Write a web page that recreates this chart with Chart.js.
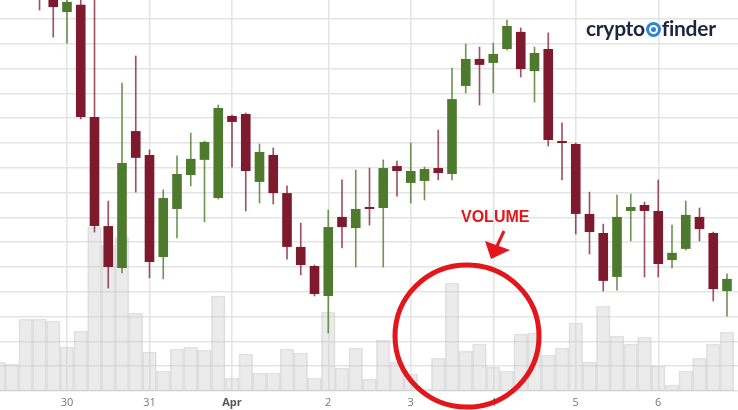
<!DOCTYPE html>
<html>
<head>
<meta charset="utf-8">
<script src="https://cdn.jsdelivr.net/npm/chart.js@4.4.1/dist/chart.umd.min.js"></script>
<style>
html,body{margin:0;padding:0;background:#fff;}
#wrap{position:relative;width:738px;height:410px;overflow:hidden;background:#fff;}
#c{position:absolute;left:0;top:0;}
#logo{position:absolute;left:586px;top:15px;font-family:Lato,'Open Sans',sans-serif;font-weight:700;font-size:21px;color:#1c2640;letter-spacing:-0.3px;display:flex;align-items:center;white-space:nowrap;}
#logo .ic{display:inline-block;position:relative;width:15px;height:15px;border-radius:50%;background:#2b86d5;margin:3px 1px 0 1px;}
#logo .ic:after{content:"";position:absolute;left:3px;top:3px;width:5px;height:5px;border:2px solid #fff;border-radius:50%;}
#vol{position:absolute;left:461px;top:209px;font-family:'Liberation Sans',Arial,sans-serif;font-weight:700;font-size:16px;line-height:16px;color:#e2161b;}
#ann{position:absolute;left:0;top:0;}
</style>
</head>
<body>
<div id="wrap">
<canvas id="c" width="738" height="410"></canvas>
<div id="logo"><span>crypto</span><span class="ic"></span><span>finder</span></div>
<svg id="ann" width="738" height="410">
  <ellipse cx="467" cy="336" rx="72" ry="71" fill="none" stroke="#e2161b" stroke-width="5"/>
  <line x1="504" y1="231" x2="497" y2="246" stroke="#e2161b" stroke-width="3"/>
  <polygon points="485,241 510,250 491,259" fill="#e2161b"/>
</svg>
<div id="vol">VOLUME</div>
</div>
<script>
// 4-hour candle slots (position index), day tick labels
const slots = [-5,-4,-3,-2,-1,0,1,2,3,4,5,6,7,8,9,10,11,12,13,14,15,16,17,18,19,20,21,22,23,24,25,26,27,28,29,30,31,32,33,34,35,36,37,38,39,40,41,42,43,44,45,46,47,48];
const tickSlots = [0,6,12,19,25,31,37,43];
const tickLabels = ['30','31','Apr','2','3','4','5','6'];

const open  = [null,null,null,7898,7801,7728,7757,7305,6865,6696,7248,7152,6740,6934,7071,7132,6978,7309,7317,7043,7152,6998,6781,6704,6583,6902,6857,6942,6938,7107,7039,7047,7099,7075,7430,7539,7523,7579,7648,7490,7579,7208,7196,6914,6837,6660,6926,6950,6926,6728,6773,6902,6837,6603];
const high  = [null,null,null,7938,7837,7797,7785,7797,6966,7442,7551,7172,7011,7148,7240,7208,7353,7313,7321,7196,7180,7027,6877,6708,6930,7051,7091,7099,7132,7127,7200,7103,7252,7502,7599,7587,7603,7696,7664,7587,7644,7281,7200,7002,6873,6990,6994,6962,7051,6869,6966,6938,6841,6672];
const low   = [null,null,null,7736,7627,7603,7297,6841,6615,6676,7002,6656,6652,6817,7027,6882,6974,7103,6926,6958,6954,6732,6668,6583,6434,6777,6700,6869,6700,6986,6958,6970,7051,7051,7402,7353,7402,7575,7466,7365,7188,7051,6833,6752,6603,6607,6805,6660,6660,6696,6769,6805,6563,6502];
const close = [null,null,null,7793,7748,7769,7305,6865,6700,7119,7140,6720,6978,7075,7136,7204,7341,7285,7087,7164,6998,6781,6708,6591,6861,6861,6934,6934,7099,7087,7087,7095,7079,7377,7539,7515,7559,7672,7498,7563,7212,7200,6914,6841,6644,6902,6942,6926,6712,6757,6910,6853,6611,6652];
const volume = [290,270,720,720,700,440,600,1640,1460,1540,780,390,200,420,440,410,950,130,370,180,180,420,380,130,790,230,430,120,510,290,170,20,330,1080,400,470,240,200,570,580,360,430,680,290,850,550,470,540,250,60,200,330,470,590];

const UP = '#4d7a2d', DOWN = '#7e1a2d';
const UPW = 'rgba(77,122,45,0.8)', DOWNW = 'rgba(126,26,45,0.75)';
const isUp = i => close[i] >= open[i];

const bodyData = slots.map((s,i) => ({x: s, y: open[i] == null ? null : [open[i], close[i]]}));
const wickData = slots.map((s,i) => ({x: s, y: low[i] == null ? null : [low[i], high[i]]}));
const volData  = slots.map((s,i) => ({x: s, y: volume[i]}));

const priceMin = 6200, priceStep = 100, priceLines = 16;

new Chart(document.getElementById('c'), {
  type: 'bar',
  data: {
    datasets: [
      {label:'Body', data: bodyData, yAxisID:'y', order:1, grouped:false,
       backgroundColor: c => isUp(c.dataIndex) ? UP : DOWN, borderWidth:0, borderSkipped:false,
       barPercentage:0.7, categoryPercentage:1},
      {label:'Wick', data: wickData, yAxisID:'y', order:2, grouped:false,
       backgroundColor: c => isUp(c.dataIndex) ? UPW : DOWNW, borderWidth:0, borderSkipped:false,
       barThickness:1},
      {label:'Volume', data: volData, yAxisID:'v', order:3, grouped:false,
       backgroundColor:'rgba(205,205,205,0.4)', borderColor:'rgba(195,195,195,0.45)', borderWidth:1, borderSkipped:false,
       barPercentage:1, categoryPercentage:1}
    ]
  },
  options: {
    responsive:false, animation:false, devicePixelRatio:1,
    layout:{padding:0},
    plugins:{legend:{display:false}, tooltip:{enabled:false}},
    scales:{
      x:{type:'linear', min:-4.873, max:48.8, offset:false,
         grid:{offset:false, color:'#e4e4e4', lineWidth:1.5, drawTicks:false},
         border:{display:false},
         afterBuildTicks: s => { s.ticks = tickSlots.map(v => ({value:v})); },
         afterFit: s => { s.height = 19; },
         ticks:{autoSkip:false, maxRotation:0, padding:5, color: c => (c.tick && tickLabels[tickSlots.indexOf(c.tick.value)]==='Apr') ? '#555' : '#777',
                font: c => ({family:"'Open Sans', sans-serif", size:11, weight: (c.tick && tickLabels[tickSlots.indexOf(c.tick.value)]==='Apr') ? 'bold' : 'normal'}),
                callback: v => tickLabels[tickSlots.indexOf(v)] ?? ''}},
      y:{type:'linear', position:'left', min:priceMin, max: priceMin + 391/24.8*priceStep,
         grid:{color:'#e4e4e4', lineWidth:1.5, drawTicks:false},
         border:{display:false},
         afterBuildTicks: s => { const t=[]; for(let k=0;k<priceLines;k++) t.push({value: priceMin + k*priceStep}); s.ticks=t; },
         afterFit: s => { s.width = 0; },
         ticks:{display:false}},
      v:{type:'linear', position:'right', min:0, max:3910, display:false}
    }
  }
});
</script>
</body>
</html>
